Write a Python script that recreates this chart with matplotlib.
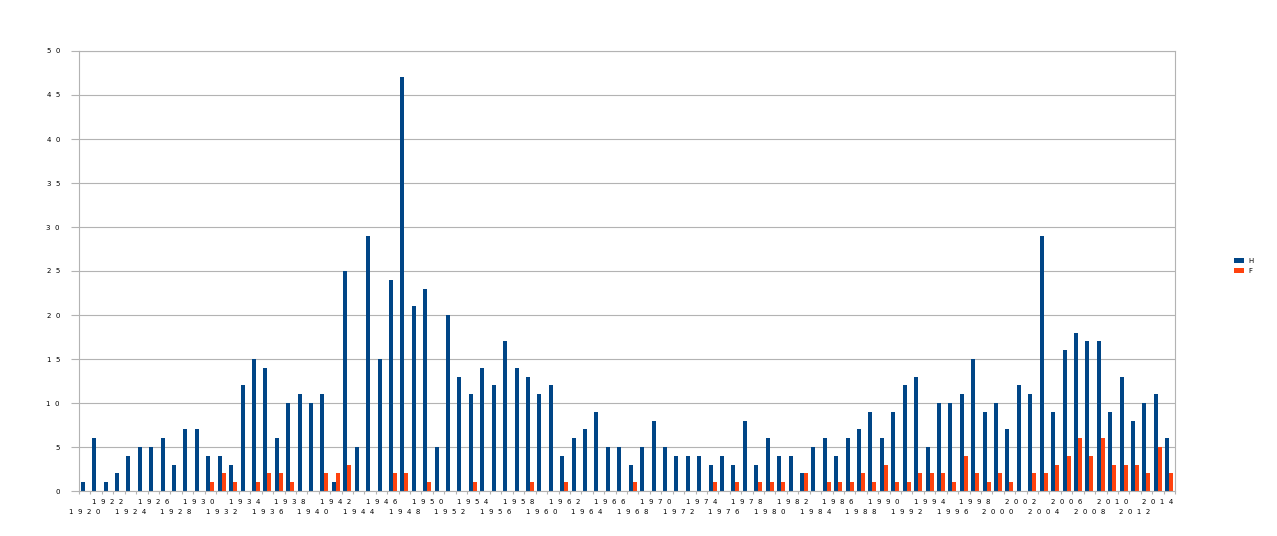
import matplotlib
matplotlib.use("Agg")
import matplotlib.pyplot as plt
import numpy as np

# Datos (1920 - 2015)
anios = list(range(1920, 2016))
valores_h = [1, 6, 1, 2, 4, 5, 5, 6, 3, 7,
             7, 4, 4, 3, 12, 15, 14, 6, 10, 11,
             10, 11, 1, 25, 5, 29, 15, 24, 47, 21,
             23, 5, 20, 13, 11, 14, 12, 17, 14, 13,
             11, 12, 4, 6, 7, 9, 5, 5, 3, 5,
             8, 5, 4, 4, 4, 3, 4, 3, 8, 3,
             6, 4, 4, 2, 5, 6, 4, 6, 7, 9,
             6, 9, 12, 13, 5, 10, 10, 11, 15, 9,
             10, 7, 12, 11, 29, 9, 16, 18, 17, 17,
             9, 13, 8, 10, 11, 6]
valores_f = [0, 0, 0, 0, 0, 0, 0, 0, 0, 0,
             0, 1, 2, 1, 0, 1, 2, 2, 1, 0,
             0, 2, 2, 3, 0, 0, 0, 2, 2, 0,
             1, 0, 0, 0, 1, 0, 0, 0, 0, 1,
             0, 0, 1, 0, 0, 0, 0, 0, 1, 0,
             0, 0, 0, 0, 0, 1, 0, 1, 0, 1,
             1, 1, 0, 2, 0, 1, 1, 1, 2, 1,
             3, 1, 1, 2, 2, 2, 1, 4, 2, 1,
             2, 1, 0, 2, 2, 3, 4, 6, 4, 6,
             3, 3, 3, 2, 5, 2]
y_ticks = list(range(0, 55, 5))

azul = '#004586'
naranja = '#ff420e'
gris = '#b3b3b3'

def espaciar(txt):
    return '  '.join(str(txt))

fig = plt.figure(figsize=(12.77, 5.36), dpi=100)
ax = fig.add_axes([79 / 1277, 1 - 491 / 536, (1175 - 79) / 1277, (491 - 51) / 536])

x = np.arange(len(anios))
w = 0.35
ax.bar(x - w / 2, valores_h, width=w, color=azul, linewidth=0, label='H')
ax.bar(x + w / 2, valores_f, width=w, color=naranja, linewidth=0, label='F')

ax.set_xlim(-0.5, len(anios) - 0.5)
ax.set_ylim(0, 50)

# Eje Y
ax.set_yticks(y_ticks)
ax.set_yticklabels([espaciar(v) for v in y_ticks])
ax.tick_params(axis='y', length=5.8, width=0.8, color=gris, pad=7.9,
               labelsize=5, labelcolor='black')
ax.yaxis.grid(True, color=gris, linewidth=0.8)
ax.set_axisbelow(True)

# Eje X: etiquetas cada 2 anios, alternando filas
pos_lab = x[::2]
ax.set_xticks(pos_lab)
ax.set_xticklabels([espaciar(a) for a in anios[::2]])
ax.tick_params(axis='x', which='major', length=0, pad=5.6, labelsize=5, labelcolor='black')
ax.set_xticks(np.arange(-0.5, len(anios), 1), minor=True)
ax.tick_params(axis='x', which='minor', length=2.2, width=0.8, color=gris)
for k, t in enumerate(ax.xaxis.get_major_ticks()):
    if k % 2 == 0:
        t.set_pad(12.8)

for s in ax.spines.values():
    s.set_color(gris)
    s.set_linewidth(0.8)

ax.legend(loc='upper left', bbox_to_anchor=(1234 / 1277, 1 - 258 / 536),
          bbox_transform=fig.transFigure, frameon=False, fontsize=5,
          handlelength=1.44, handleheight=0.72, handletextpad=0.7,
          labelspacing=0.56, borderpad=0, borderaxespad=0)

fig.savefig('out.png', dpi=100)
